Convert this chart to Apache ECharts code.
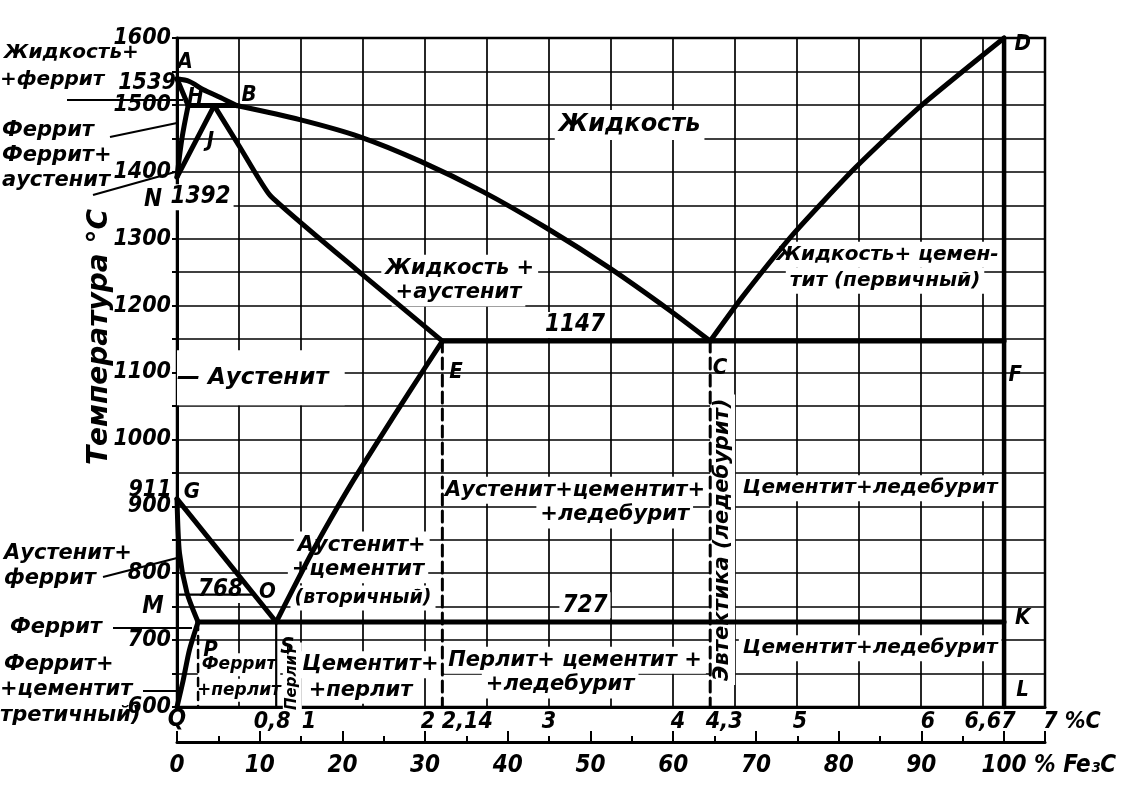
<!DOCTYPE html>
<html><head><meta charset="utf-8">
<script src="https://cdn.jsdelivr.net/npm/echarts@6/dist/echarts.min.js"></script>
<style>html,body{margin:0;padding:0;background:#fff}#c{width:1124px;height:786px}</style>
</head><body><div id="c"></div>
<script>
// ---------------- data (%C, °C) ----------------
const liquidusAB = [[0,1539],[0.1,1535],[0.21,1523],[0.35,1511],[0.48,1499]];
const liquidusBC = [[0.48,1499],[0.99,1478],[1.48,1452],[1.96,1416],[2.47,1370],[2.98,1316],[3.49,1256],[3.98,1192],[4.3,1147]];
const liquidusCD = [[4.3,1147],[4.56,1213],[4.98,1309],[5.47,1406],[5.99,1497],[6.67,1600]];
const solidusAH = [[0,1539],[0.09,1499]];
const peritecticHB = [[0.09,1499],[0.48,1499]];
const lineHN = [[0.09,1499],[0.04,1450],[0,1392]];
const lineNJ = [[0,1392],[0.3,1499]];
const lineJE = [[0.3,1499],[0.51,1436],[0.75,1365],[1.44,1255],[2.14,1147]];
const eutecticECF = [[2.14,1147],[6.67,1147]];
const lineES = [[2.14,1147],[1.86,1067],[1.64,1003],[1.41,935],[1.23,878],[1.08,828],[0.94,778],[0.8,727]];
const lineGS = [[0,911],[0.8,727]];
const lineGP = [[0,911],[0.02,830],[0.08,771],[0.17,727]];
const linePQ = [[0.17,727],[0.1,685],[0.05,640],[0,600]];
const lineMO = [[0,768],[0.62,768]];
const eutectoidPSK = [[0.17,727],[6.67,727]];
const lineDL = [[6.67,1600],[6.67,600]];
const dashedE = [[2.14,1147],[2.14,600]];
const dashedC = [[4.3,1147],[4.3,600]];
const dashedP = [[0.17,727],[0.17,600]];
const lineS = [[0.8,727],[0.8,600]];

const carbonTickValues = [0.8, 1, 2, 2.14, 3, 4, 4.3, 5, 6, 6.67, 7];
const carbonTickLabels = ['0,8','1','2','2,14','3','4','4,3','5','6','6,67','7 %C'];
const carbonLabelShift = [-4, 8, 3, 25, 0, 5, 14, 3, 7, -14, 27];

// annotations inside plot: [text, %C, °C]
const pointNames = [['A',0.065,1564],['H',0.15,1512],['B',0.58,1515],['J',0.27,1445],
  ['E',2.25,1101],['C',4.38,1107],['F',6.76,1096],['D',6.82,1590],['K',6.82,733],['L',6.82,625],
  ['G',0.12,921],['O',0.73,772],['P',0.27,685],['S',0.89,690]];
const numberNotes = [['1147',3.21,1171],['727',3.29,752],['1392',0.19,1362],['768',0.35,775]];
const regionNotes = [
  ['Жидкость',3.65,1470,24],
  ['Жидкость +',2.28,1256,21],['+аустенит',2.27,1219,21],
  ['Жидкость+ цемен-',5.73,1276,20],['тит (первичный)',5.71,1237,20],
  ['Аустенит+цементит+',3.21,924,21],['+ледебурит',3.53,887,21],
  ['Цементит+ледебурит',5.59,927,20],
  ['Аустенит+',1.49,842,21],['+цементит',1.46,805,21],['(вторичный)',1.5,763,19],
  ['Феррит',0.5,663,17],['+перлит',0.5,625,17],
  ['Цементит+',1.56,663,21],['+перлит',1.48,625,21],
  ['Перлит+ цементит +',3.21,670,21],['+ледебурит',3.09,633,21],
  ['Цементит+ледебурит',5.59,688,20]
];
const austeniteNote = ['— Аустенит',0.0,1092];
const verticalNotes = [['Эвтектика (ледебурит)',4.40,850,21],['Перлит',0.93,643,15]];

// ---------------- styles ----------------
const FT = '"DejaVu Sans", sans-serif';
const FN = '"Liberation Sans Narrow","DejaVu Sans Condensed","DejaVu Sans",sans-serif';
const txt = {color:'#000', opacity:1, fontStyle:'italic', fontWeight:'bold', fontFamily:FT, textBorderWidth:0};

function lineSeries(data, opt) {
  opt = opt || {};
  return {type:'line', data:data, xAxisIndex:0, yAxisIndex:0, symbol:'none', showSymbol:false,
    smooth: opt.smooth || false, silent:true, z:5, clip:false,
    lineStyle:{color:'#000', opacity:1, width: opt.width || 5, type: opt.type || 'solid', cap:'round', join:'round'}};
}
function labelSeries(items, z) {
  return {type:'scatter', xAxisIndex:0, yAxisIndex:0, symbolSize:1, silent:true, clip:false, z:z||3,
    itemStyle:{color:'rgba(0,0,0,0)', opacity:1}, emphasis:{disabled:true}, data:items};
}
function noteItem(t, x, y, lab) {
  return {value:[x,y], label:Object.assign({show:true, position:'inside', formatter:t}, txt, lab)};
}

const series = [
  lineSeries(liquidusAB,{smooth:0.3}), lineSeries(liquidusBC,{smooth:0.25}), lineSeries(liquidusCD,{smooth:0.2}),
  lineSeries(solidusAH), lineSeries(peritecticHB), lineSeries(lineHN,{smooth:0.3}), lineSeries(lineNJ),
  lineSeries(lineJE,{smooth:0.15}), lineSeries(eutecticECF,{width:5}), lineSeries(lineES,{smooth:0.2}),
  lineSeries(lineGS), lineSeries(lineGP,{smooth:0.25}), lineSeries(linePQ,{smooth:0.25}),
  lineSeries(lineMO,{width:2.2}), lineSeries(eutectoidPSK,{width:5}), lineSeries(lineDL,{width:4.5}),
  lineSeries(dashedE,{width:3,type:[11,6]}), lineSeries(dashedC,{width:3,type:[11,6]}),
  lineSeries(dashedP,{width:2.5,type:[8,6]}), lineSeries(lineS,{width:2.2}),
  labelSeries(regionNotes.map(d => noteItem(d[0],d[1],d[2],{fontSize:d[3], backgroundColor:'#fff', padding:[3,4]}))),
  labelSeries([noteItem(austeniteNote[0],austeniteNote[1],austeniteNote[2],{fontSize:23, align:'left', backgroundColor:'#fff', padding:[16,16,16,0]})]),
  labelSeries(verticalNotes.map(d => noteItem(d[0],d[1],d[2],{fontSize:d[3], rotate:90, backgroundColor:'#fff', padding:[2,4]}))),
  labelSeries(numberNotes.map(d => noteItem(d[0],d[1],d[2],{fontSize:24, fontFamily:FN, backgroundColor:'#fff', padding:[1,3]}))),
  labelSeries(pointNames.map(d => noteItem(d[0],d[1],d[2],{fontSize:22, fontFamily:FN})), 6),
  labelSeries(carbonTickValues.map((v,i) => ({value:[v,600], label:Object.assign({}, txt, {show:true, position:'bottom', distance:3,
      offset:[carbonLabelShift[i],0], formatter:carbonTickLabels[i], fontSize:23, fontFamily:FN})})), 6)
];

const chart = echarts.init(document.getElementById('c'), null, {renderer:'canvas'});
const FE3C_MAX = 7 / 6.67 * 100;
chart.setOption({
  animation:false,
  backgroundColor:'#fff',
  grid:{left:177, right:79, top:38, bottom:79, show:true, borderColor:'#000', borderWidth:2.5,
        containLabel:false, outerBoundsMode:'none'},
  xAxis:[
    {type:'value', min:0, max:7, interval:0.5, position:'bottom',
     axisLine:{show:true, onZero:false, lineStyle:{color:'#000', width:3}},
     axisTick:{show:false}, axisLabel:{show:false},
     splitLine:{show:true, lineStyle:{color:'#000', width:1.7}}},
    {type:'value', min:0, max:FE3C_MAX, interval:10, position:'bottom', offset:35,
     axisLine:{show:true, onZero:false, lineStyle:{color:'#000', width:3}},
     axisTick:{show:true, inside:true, length:11, lineStyle:{color:'#000', width:2}},
     minorTick:{show:true, splitNumber:2, length:6, lineStyle:{color:'#000', width:2}},
     axisLabel:{show:true, margin:12, showMaxLabel:false, color:'#000', fontSize:24, fontStyle:'italic', fontWeight:'bold', fontFamily:FN,
       formatter: v => (Math.abs(v % 10) < 1e-6 ? String(Math.round(v)) : '')},
     splitLine:{show:false}}
  ],
  yAxis:{type:'value', min:600, max:1600, interval:50,
     axisLine:{show:true, lineStyle:{color:'#000', width:3}},
     axisTick:{show:true, length:5, lineStyle:{color:'#000', width:2}},
     axisLabel:{show:true, margin:6, color:'#000', fontSize:23, fontStyle:'italic', fontWeight:'bold', fontFamily:FN,
       formatter: v => (v % 100 === 0 ? String(v) : '')},
     splitLine:{show:true, lineStyle:{color:'#000', width:1.7}}},
  series: series
});

// annotations outside the plot (pixel positions)
function gt(text, x, y, size, align, font, extra) {
  return Object.assign({type:'text', x:x, y:y, silent:true, z:10,
    style:{text:text, fill:'#000', font:'italic bold ' + size + 'px ' + (font||FT), textAlign:align||'left', textVerticalAlign:'middle'}}, extra||{});
}
function gl(x1,y1,x2,y2) {
  return {type:'line', silent:true, z:10, shape:{x1:x1,y1:y1,x2:x2,y2:y2}, style:{stroke:'#000', lineWidth:2.2}};
}
chart.setOption({graphic:{elements:[
  gt('Жидкость+',4,53,20), gt('+феррит',0,80,20), gl(67,100,183,100),
  gt('Феррит',2,131,21), gl(110,137,177,123),
  gt('Феррит+',2,156,21), gt('аустенит',2,181,21), gl(93,195,175,172),
  gt('Аустенит+',4,554,21), gt('феррит',4,579,21), gl(103,577,177,558),
  gt('Феррит',10,628,21), gl(113,628,192,628),
  gt('Феррит+',4,665,21), gt('+цементит',0,690,21), gl(143,691,181,691), gt('третичный)',0,716,21),
  gt('N',153,200,24,'center',FN), gt('M',153,607,24,'center',FN), gt('Q',177,720,24,'center',FN),
  gt('1539',147,83,23,'center',FN), gt('911',150,490,23,'center',FN),
  gt('% Fe₃C',1034,766,24,'left',FN),
  gt('Температура °С',100,337,28,'center',FT,{rotation:Math.PI/2})
]}});
</script></body></html>
